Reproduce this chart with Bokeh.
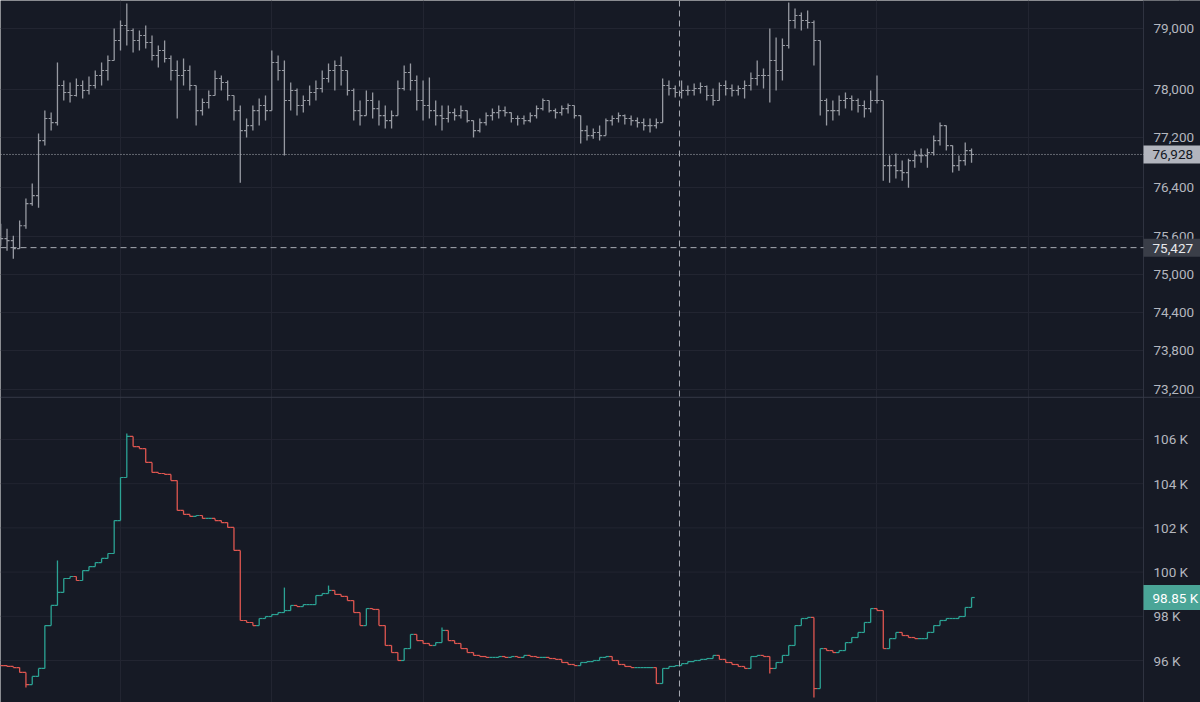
from bokeh.plotting import figure
from bokeh.models import Range1d, FixedTicker, Span, Label, ColumnDataSource, LinearScale
from bokeh.transform import dodge
from bokeh.core.properties import value
from bokeh.embed import file_html
from bokeh.resources import INLINE

# ---------------- data ----------------
# upper pane: price bars (one bar per slot)
price_first_open = 75650
price_high = [
    75810, 75730, 75618, 75859, 76213, 76455, 77268, 77645, 77612, 78438,
    78140, 78107, 78173, 78140, 78206, 78306, 78438, 78555, 79005, 79139,
    79425, 79005, 78972, 79055, 78888, 78721, 78805, 78555, 78472, 78505,
    78389, 78060, 77843, 77975, 78306, 78223, 78140, 77892, 77728, 77514,
    77728, 77843, 77892, 78638, 78555, 78472, 78107, 78008, 77892, 78057,
    78140, 78306, 78422, 78472, 78538, 78306, 78008, 77810, 77975, 77942,
    77810, 77728, 77645, 78140, 78389, 78422, 78223, 78140, 78190, 77810,
    77728, 77728, 77678, 77728, 77645, 77481, 77514, 77612, 77678, 77728,
    77711, 77612, 77563, 77563, 77612, 77728, 77843, 77810, 77678, 77728,
    77760, 77728, 77563, 77399, 77350, 77399, 77514, 77563, 77612, 77580,
    77563, 77530, 77514, 77514, 77514, 78173, 78140, 78057, 78140, 78057,
    78090, 78107, 78057, 78008, 78107, 78140, 78074, 78057, 78140, 78272,
    78472, 78339, 79005, 78855, 78838, 79441, 79340, 79273, 79307, 79139,
    78805, 77843, 77810, 77892, 77942, 77892, 77843, 77810, 77975, 78223,
    77810, 76909, 76942, 76828, 76860, 76991, 77023, 77023, 77235, 77448,
    77399, 77072, 76909, 77121, 77023,
]
price_low = [
    75458, 75379, 75251, 75411, 75730, 76100, 76067, 77072, 77317, 77399,
    77810, 77777, 77876, 77843, 77909, 78008, 78057, 78140, 78472, 78638,
    78721, 78605, 78638, 78671, 78472, 78355, 78438, 78140, 77514, 78057,
    77975, 77399, 77563, 77678, 77892, 77975, 77810, 77481, 76471, 77203,
    77317, 77399, 77481, 77645, 78140, 76909, 77645, 77563, 77612, 77728,
    77810, 77942, 78107, 77975, 78057, 77892, 77481, 77399, 77563, 77514,
    77399, 77350, 77350, 77563, 77975, 77975, 77645, 77481, 77514, 77399,
    77317, 77448, 77481, 77514, 77448, 77203, 77285, 77399, 77481, 77514,
    77547, 77448, 77399, 77416, 77448, 77514, 77645, 77612, 77514, 77563,
    77596, 77514, 77105, 77154, 77186, 77154, 77235, 77399, 77448, 77416,
    77399, 77366, 77317, 77285, 77350, 77448, 77892, 77859, 77843, 77892,
    77892, 77925, 77810, 77728, 77810, 77892, 77876, 77892, 77843, 77975,
    78057, 78008, 77777, 77975, 78140, 78671, 79005, 78972, 79005, 78389,
    77563, 77399, 77481, 77563, 77678, 77645, 77612, 77530, 77612, 77760,
    76503, 76471, 76536, 76503, 76390, 76714, 76795, 76714, 76909, 77072,
    76991, 76633, 76665, 76747, 76795,
]
price_close = [
    75570, 75538, 75411, 75778, 76132, 76261, 77154, 77514, 77448, 78057,
    77942, 77892, 78057, 77975, 78057, 78223, 78306, 78472, 78805, 79055,
    78972, 78805, 78888, 78771, 78555, 78638, 78505, 78306, 78223, 78306,
    78057, 77645, 77777, 77892, 78173, 78107, 77892, 77645, 77317, 77399,
    77645, 77728, 77645, 78438, 78306, 77810, 77975, 77728, 77810, 77942,
    78008, 78173, 78306, 78389, 78306, 77975, 77645, 77563, 77810, 77678,
    77563, 77481, 77563, 78008, 78272, 78140, 77810, 77728, 77645, 77563,
    77514, 77612, 77563, 77645, 77481, 77317, 77448, 77563, 77612, 77645,
    77612, 77514, 77514, 77481, 77563, 77678, 77810, 77645, 77612, 77678,
    77728, 77563, 77317, 77235, 77285, 77235, 77481, 77514, 77563, 77514,
    77481, 77448, 77399, 77399, 77448, 78057, 78008, 77942, 77975, 77975,
    78008, 78041, 77892, 77810, 78057, 78008, 77975, 78008, 78057, 78173,
    78223, 78223, 78472, 78306, 78721, 79139, 79223, 79139, 79106, 78805,
    77810, 77645, 77645, 77810, 77843, 77810, 77728, 77678, 77810, 77810,
    76747, 76747, 76665, 76633, 76828, 76909, 76909, 76958, 77154, 77399,
    77072, 76747, 76828, 76991, 76928,
]
price_ticks = [73200, 73800, 74400, 75000, 75600, 76400, 77200, 78000, 79000]
last_price = 76928
last_price_text = "76,928"
cross_price = 75427
cross_price_text = "75,427"
pane_split_price = 73077          # lower edge of the price pane

# lower pane: indicator bars, values in thousands
oi_first_open = 95.80
oi_close = [
    95.77, 95.73, 95.68, 95.46, 94.91, 95.28, 95.64, 97.58, 98.49, 99.08,
    99.71, 99.80, 99.62, 100.07, 100.25, 100.43, 100.62, 100.84, 102.33, 104.28,
    106.14, 105.68, 105.59, 104.96, 104.51, 104.46, 104.42, 104.14, 102.79, 102.61,
    102.52, 102.56, 102.43, 102.43, 102.33, 102.24, 102.02, 100.98, 97.81, 97.72,
    97.58, 97.90, 97.99, 98.08, 98.17, 98.26, 98.49, 98.44, 98.53, 98.53,
    98.94, 99.03, 99.17, 98.99, 98.90, 98.71, 98.17, 97.58, 98.35, 98.31,
    97.58, 96.68, 96.36, 96.00, 96.54, 97.18, 96.90, 96.77, 96.68, 96.81,
    97.36, 96.90, 96.77, 96.54, 96.36, 96.23, 96.18, 96.14, 96.14, 96.18,
    96.14, 96.18, 96.14, 96.23, 96.18, 96.14, 96.14, 96.09, 96.05, 95.91,
    95.82, 95.77, 95.91, 95.95, 96.00, 96.14, 96.18, 96.00, 95.82, 95.73,
    95.68, 95.68, 95.68, 95.68, 94.96, 95.64, 95.73, 95.77, 95.86, 95.95,
    96.00, 96.05, 96.09, 96.23, 96.05, 95.91, 95.82, 95.73, 95.64, 96.18,
    96.23, 96.18, 95.64, 95.91, 96.23, 96.68, 97.58, 97.90, 97.95, 94.73,
    96.54, 96.45, 96.36, 96.45, 96.81, 97.04, 97.27, 97.72, 98.35, 98.26,
    96.54, 96.99, 97.27, 97.13, 97.04, 96.99, 96.99, 97.27, 97.58, 97.81,
    97.90, 97.90, 97.99, 98.40, 98.85,
]
oi_spike_bar = [4, 9, 20, 45, 52, 70, 122, 129]
oi_spike_val = [94.78, 100.52, 106.27, 99.30, 99.39, 97.49, 95.41, 94.33]
oi_ticks = [96, 98, 100, 102, 104, 106]
oi_last = 98.85
oi_last_text = "98.85 K"

# time grid (bar slots), crosshair slot, price-scale edge slot
time_grid = [-5, 19, 43, 67, 91, 115, 139, 163, 187]
cross_bar = 107.67
scale_edge = 181.28

# ---------------- styling ----------------
BG = "#161a25"
GRID = "#222531"
AXIS_LINE = "#2f3340"
SEP = "#363a47"
TEXT = "#b4b7bf"
BAR = "#979aa2"
UP = "#2ba394"
DOWN = "#df5650"
CROSS = "#a9acb4"
FONT = "Roboto"
FS = "13.5px"

n = len(price_close)
bar_x = list(range(n))
price_open = [price_first_open] + price_close[:-1]
oi_open = [oi_first_open] + oi_close[:-1]
oi_high = [max(o, c) for o, c in zip(oi_open, oi_close)]
oi_low = [min(o, c) for o, c in zip(oi_open, oi_close)]
for b, v in zip(oi_spike_bar, oi_spike_val):
    oi_high[b] = max(oi_high[b], v)
    oi_low[b] = min(oi_low[b], v)
oi_color = [UP if c >= o else DOWN for o, c in zip(oi_open, oi_close)]

# one canvas, two stacked panes: log price scale above, linear indicator scale below
x_range = Range1d(-0.035, 190.32)
p = figure(width=1200, height=702, x_range=x_range, y_range=Range1d(68509, 79474),
           y_axis_type="log", x_axis_location=None, y_axis_location=None,
           toolbar_location=None, output_backend="svg", min_border=0)
p.extra_y_ranges = {"oi": Range1d(94.10, 125.86)}
p.extra_y_scales = {"oi": LinearScale()}
p.background_fill_color = BG
p.border_fill_color = BG
p.outline_line_color = None
p.grid.grid_line_color = GRID
p.grid.grid_line_width = 1
p.xgrid.ticker = FixedTicker(ticks=time_grid)
p.ygrid.ticker = FixedTicker(ticks=price_ticks)
for t in oi_ticks:
    p.add_layout(Span(location=t, dimension="width", y_range_name="oi",
                      line_color=GRID, line_width=1, level="underlay"))

# price bars
psrc = ColumnDataSource(dict(x=bar_x, o=price_open, h=price_high, l=price_low, c=price_close))
p.segment(x0="x", y0="l", x1="x", y1="h", source=psrc, line_color=BAR, line_width=1.3)
p.segment(x0=dodge("x", -0.4, range=x_range), y0="o", x1="x", y1="o", source=psrc,
          line_color=BAR, line_width=1.1)
p.segment(x0="x", y0="c", x1=dodge("x", 0.4, range=x_range), y1="c", source=psrc,
          line_color=BAR, line_width=1.1)

# indicator bars
osrc = ColumnDataSource(dict(x=bar_x, o=oi_open, h=oi_high, l=oi_low, c=oi_close, col=oi_color))
p.segment(x0="x", y0="l", x1="x", y1="h", source=osrc, y_range_name="oi",
          line_color="col", line_width=1.3)
p.segment(x0=dodge("x", -0.5, range=x_range), y0="o", x1="x", y1="o", source=osrc,
          y_range_name="oi", line_color="col", line_width=1.2)
p.segment(x0="x", y0="c", x1=dodge("x", 0.5, range=x_range), y1="c", source=osrc,
          y_range_name="oi", line_color="col", line_width=1.2)

# price-scale column at the right edge
p.quad(left=scale_edge, right=x_range.end, bottom=p.y_range.start, top=p.y_range.end,
       fill_color=BG, line_color=None)
p.add_layout(Span(location=scale_edge, dimension="height", line_color=AXIS_LINE, line_width=1))
p.text(x=scale_edge, y=price_ticks, text=[f"{t:,}" for t in price_ticks], x_offset=10,
       text_align="left", text_baseline="middle", text_font=value(FONT),
       text_font_size=FS, text_color=TEXT)
p.text(x=scale_edge, y=oi_ticks, text=[f"{t} K" for t in oi_ticks], x_offset=10,
       y_range_name="oi", text_align="left", text_baseline="middle",
       text_font=value(FONT), text_font_size=FS, text_color=TEXT)

# pane separator, price lines, crosshair
p.add_layout(Span(location=pane_split_price, dimension="width", line_color=SEP, line_width=1))
p.add_layout(Span(location=last_price, dimension="width", line_color="#aeb1b9",
                  line_dash="1 2", line_width=1))
p.add_layout(Span(location=cross_price, dimension="width", line_color=CROSS,
                  line_dash="6 4", line_width=1))
p.add_layout(Span(location=cross_bar, dimension="height", line_color=CROSS,
                  line_dash="6 4", line_width=1))


def price_box(y, text, bg, fg, pad_right, range_name="default"):
    p.add_layout(Label(x=scale_edge, y=y, text=text, x_units="data", y_units="data",
                       y_range_name=range_name, text_align="left", text_baseline="middle",
                       text_font=FONT, text_font_size=FS, text_color=fg,
                       background_fill_color=bg,
                       padding=dict(left=9, right=pad_right, top=5, bottom=4)))


price_box(last_price, last_price_text, "#b2b5be", "#131722", 12)
price_box(cross_price, cross_price_text, "#3a3e48", "#e8e9ec", 12)
price_box(oi_last, oi_last_text, "#4aa597", "#ffffff", 6, "oi")

open("out.html", "w").write(file_html(p, INLINE))
